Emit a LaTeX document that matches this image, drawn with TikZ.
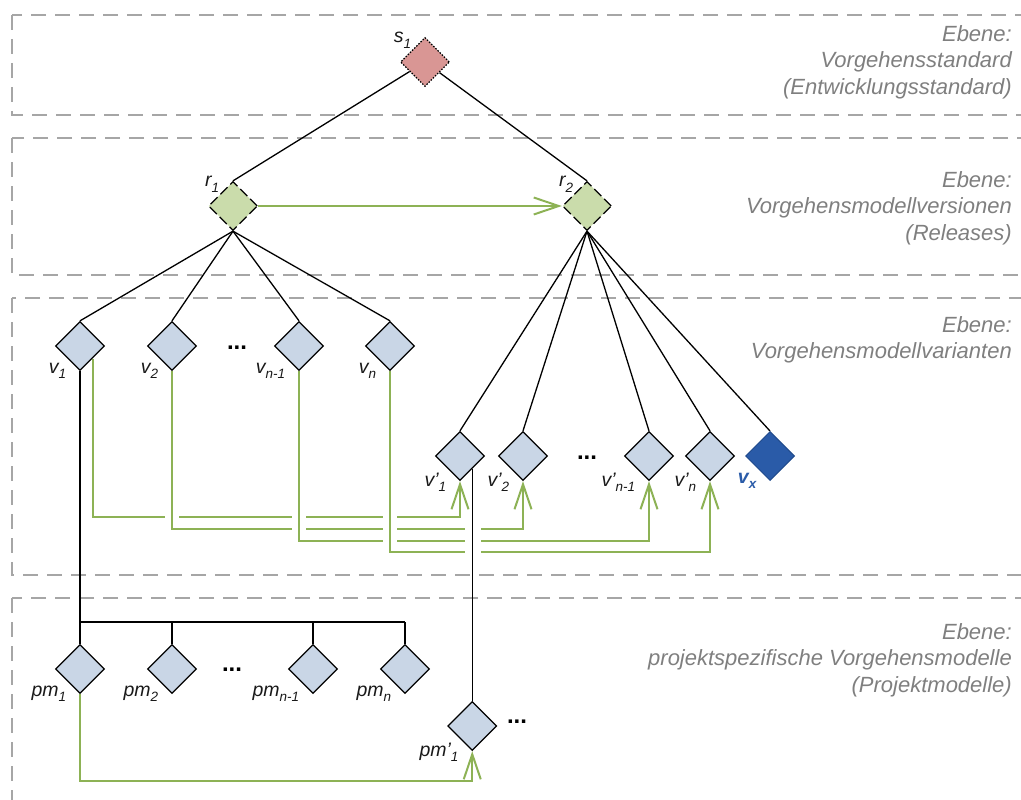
\documentclass[tikz,border=0pt]{standalone}
\usepackage{fontspec}
\setmainfont{Liberation Sans}
\usetikzlibrary{shapes.geometric,arrows.meta}
\definecolor{gline}{HTML}{8DB255}
\definecolor{gfill}{HTML}{CADCAB}
\definecolor{bfill}{HTML}{C9D6E6}
\definecolor{pfill}{HTML}{D99694}
\definecolor{dblue}{HTML}{2A5BA8}
\definecolor{dblueb}{HTML}{1F4A8C}
\definecolor{laygray}{HTML}{A6A6A6}
\definecolor{laytext}{HTML}{7F7F7F}
\pgfdeclarelayer{boxes}
\pgfdeclarelayer{conn}
\pgfsetlayers{boxes,conn,main}
\newcommand{\sbs}[1]{\raisebox{-0.28em}{\fontsize{13.5}{13.5}\selectfont #1}}
\begin{document}
\begin{tikzpicture}[x=1pt,y=-1pt,
  dia/.style={diamond, draw=black, line width=1.3pt, fill=bfill, minimum width=49pt, minimum height=49pt, inner sep=0pt},
  lbl/.style={font=\fontsize{19.5}{19.5}\selectfont\itshape, text=black!90, inner sep=1pt},
  lbs/.style={lbl, yshift=-3pt},
  laybox/.style={draw=laygray, line width=1.4pt, dash pattern=on 15pt off 9pt},
  laylbl/.style={font=\fontsize{22}{26.5}\selectfont\itshape, text=laytext, align=right, anchor=east, inner sep=0pt},
  tree/.style={draw=black, line width=1.3pt},
  gconn/.style={draw=gline, line width=2pt, -{Straight Barb[length=25pt,width=17pt,line width=2pt]}},
  halo/.style={preaction={draw=white, line width=14pt, -}},
  dots/.style={font=\fontsize{24}{24}\selectfont\bfseries, inner sep=0pt}
]
\useasboundingbox (0,0) rectangle (1021,800);
\clip (0,0) rectangle (1021,800);

% layer boxes
\begin{pgfonlayer}{boxes}
\draw[laybox] (12,15) rectangle (1045,115);
\draw[laybox] (12,138) rectangle (1045,275);
\draw[laybox] (12,298) rectangle (1045,575);
\draw[laybox] (12,598) rectangle (1045,830);
\end{pgfonlayer}

\node[laylbl] (L1) at (1012,62) {Ebene:\\Vorgehensstandard\\(Entwicklungsstandard)};
\node[laylbl] (L2) at (1012,208) {Ebene:\\Vorgehensmodellversionen\\(Releases)};
\node[laylbl] (L3) at (1012,340) {Ebene:\\Vorgehensmodellvarianten};
\node[laylbl] (L4) at (1012,660) {Ebene:\\projektspezifische Vorgehensmodelle\\(Projektmodelle)};

% nodes
\node[dia, fill=pfill, dash pattern=on 1.5pt off 1.5pt, label={[lbl]north west:s\sbs{1}}] (s1) at (425,62) {};
\node[dia, fill=gfill, dash pattern=on 10pt off 4pt, label={[lbl]north west:r\sbs{1}}] (r1) at (233,206) {};
\node[dia, fill=gfill, dash pattern=on 10pt off 4pt, label={[lbl]north west:r\sbs{2}}] (r2) at (587,206) {};

\node[dia, label={[lbs]south west:v\sbs{1}}] (v1) at (80,346) {};
\node[dia, label={[lbs]south west:v\sbs{2}}] (v2) at (172,346) {};
\node[dia, label={[lbs]south west:v\sbs{n-1}}] (vn1) at (299,346) {};
\node[dia, label={[lbs]south west:v\sbs{n}}] (vn) at (390,346) {};
\node[dots] (d1) at (237,348) {...};

\node[dia, label={[lbs]south west:v'\sbs{1}}] (vp1) at (460,456) {};
\node[dia, label={[lbs]south west:v'\sbs{2}}] (vp2) at (523,456) {};
\node[dia, label={[lbs]south west:v'\sbs{n-1}}] (vpn1) at (649,456) {};
\node[dia, label={[lbs]south west:v'\sbs{n}}] (vpn) at (710,456) {};
\node[dia, fill=dblue, draw=dblueb, line width=1pt, label={[lbs, text=dblue, font=\fontsize{19.5}{19.5}\selectfont\itshape\bfseries]south west:v\sbs{x}}] (vx) at (770,456) {};
\node[dots] (d2) at (587,458) {...};

\node[dia, label={[lbs]south west:pm\sbs{1}}] (pm1) at (80,669) {};
\node[dia, label={[lbs]south west:pm\sbs{2}}] (pm2) at (172,669) {};
\node[dia, label={[lbs]south west:pm\sbs{n-1}}] (pmn1) at (313,669) {};
\node[dia, label={[lbs]south west:pm\sbs{n}}] (pmn) at (405,669) {};
\node[dots] (d3) at (232,670) {...};

\node[dia, label={[lbs]south west:pm'\sbs{1}}] (pmp1) at (472.25,726) {};
\node[dots] (d4) at (517,722) {...};

\coordinate (g1) at (0,517);
\coordinate (g2) at (0,529);
\coordinate (g3) at (0,541);
\coordinate (g4) at (0,552);
\coordinate (g5) at (0,781);
\coordinate (bus) at (0,622);
\coordinate (gapA) at (0,522);
\coordinate (gapB) at (0,560);

\begin{pgfonlayer}{conn}
% green connectors
\draw[gconn] (r1.east) -- (r2.west);
\draw[gconn, halo] (v1.south east) |- (g1 -| vp1.south) -- (vp1.south);
\draw[gconn, halo] (v2.south) |- (g2 -| vp2.south) -- (vp2.south);
\draw[gconn, halo] (vn1.south) |- (g3 -| vpn1.south) -- (vpn1.south);
\draw[gconn, halo] (vn.south) |- (g4 -| vpn.south) -- (vpn.south);
\draw[gconn] (pm1.south) |- (g5 -| pmp1.south) -- (pmp1.south);
\draw[white, line width=16pt] (vp1.south east |- gapA) -- (vp1.south east |- gapB);
% tree
\draw[tree] (s1) -- (r1.north);
\draw[tree] (s1) -- (r2.north);
\draw[tree] (r1.south) -- (v1.north);
\draw[tree] (r1.south) -- (v2.north);
\draw[tree] (r1.south) -- (vn1.north);
\draw[tree] (r1.south) -- (vn.north);
\draw[tree] (r2.south) -- (vp1.north);
\draw[tree] (r2.south) -- (vp2.north);
\draw[tree] (r2.south) -- (vpn1.north);
\draw[tree] (r2.south) -- (vpn.north);
\draw[tree] (r2.south) -- (vx.north);
\draw[tree] (v1.south) -- (pm1.north);
\draw[tree] (pm1.north |- bus) -- (pmn.north |- bus);
\draw[tree] (pm2.north |- bus) -- (pm2.north);
\draw[tree] (pmn1.north |- bus) -- (pmn1.north);
\draw[tree] (pmn.north |- bus) -- (pmn.north);
\draw[tree] (vp1.south east) -- (vp1.south east |- pmp1.north);
\end{pgfonlayer}
\end{tikzpicture}
\end{document}
